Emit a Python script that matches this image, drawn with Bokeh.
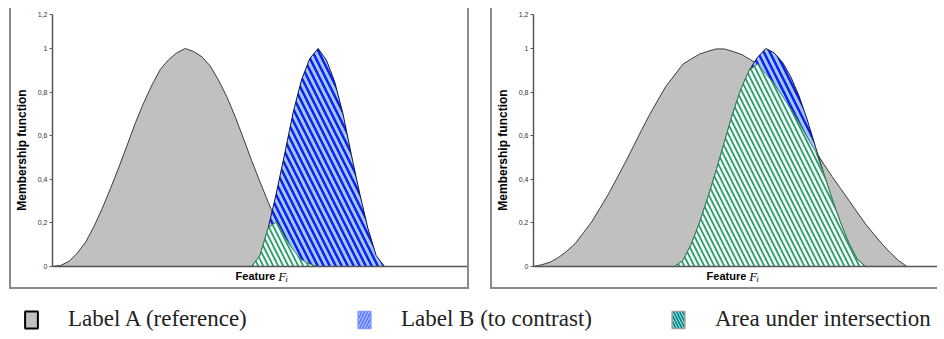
import numpy as np
from bokeh.plotting import figure
from bokeh.models import Range1d, FixedTicker, Label, Legend, LegendItem, ColumnDataSource, Span
from bokeh.layouts import row, column
from bokeh.embed import file_html
from bokeh.resources import INLINE

# ---------------- data (feature units, membership values) ----------------
x_left = [0, 2, 4, 6, 8, 10, 12, 14, 16, 18, 20, 22, 24, 26, 28, 30, 32, 34, 36, 38, 40,
          42, 44, 46, 48, 50, 52, 54, 56, 58, 60, 62, 64, 66, 68, 70, 72, 74, 76, 78, 80]
label_a_left = [0, 0.005, 0.024, 0.062, 0.112, 0.184, 0.267, 0.359, 0.456, 0.557, 0.66,
                0.752, 0.834, 0.905, 0.949, 0.981, 1.0, 0.986, 0.962, 0.92, 0.855,
                0.779, 0.688, 0.588, 0.485, 0.388, 0.294, 0.205, 0.134, 0.076, 0.031,
                0.011, 0, 0, 0, 0, 0, 0, 0, 0, 0]
label_b_left = [0, 0, 0, 0, 0, 0, 0, 0, 0, 0, 0,
                0, 0, 0, 0, 0, 0, 0, 0, 0, 0,
                0, 0, 0, 0, 0.051, 0.178, 0.342, 0.522, 0.708, 0.856,
                0.954, 1.0, 0.947, 0.847, 0.70, 0.514, 0.337, 0.175, 0.05, 0]

x_right = [0, 2, 4, 6, 8, 10, 12, 14, 16, 18, 20, 22, 24, 26, 28, 30, 32, 34, 36, 38, 40,
           42, 44, 46, 48, 50, 52, 54, 56, 58, 60, 62, 64, 66, 68, 70, 72, 74, 76, 78, 80,
           82, 84, 86, 88, 90]
label_a_right = [0, 0.008, 0.020, 0.041, 0.070, 0.104, 0.154, 0.204, 0.267, 0.330, 0.401,
                 0.473, 0.548, 0.624, 0.697, 0.764, 0.829, 0.878, 0.928, 0.952, 0.974,
                 0.987, 0.998, 0.998, 0.987, 0.974, 0.952, 0.929, 0.883, 0.838, 0.782,
                 0.723, 0.660, 0.592, 0.528, 0.469, 0.412, 0.358, 0.304, 0.250, 0.196,
                 0.149, 0.104, 0.063, 0.027, 0]
label_b_right = [0, 0, 0, 0, 0, 0, 0, 0, 0, 0, 0,
                 0, 0, 0, 0, 0, 0, 0, 0.027, 0.101, 0.200,
                 0.315, 0.438, 0.570, 0.701, 0.814, 0.900, 0.960, 1.0, 0.980, 0.937,
                 0.871, 0.782, 0.672, 0.547, 0.424, 0.308, 0.201, 0.107, 0.034, 0,
                 0, 0, 0, 0, 0]

y_ticks = [0, 0.2, 0.4, 0.6, 0.8, 1.0, 1.156]
y_tick_labels = ["0", "0,2", "0,4", "0,6", "0,8", "1", "1,2"]
x_title = ["Feature", "F", "i"]
legend_labels = ["Label A (reference)", "Label B (to contrast)", "Area under intersection"]

BORDER = "2px solid #8a8a8a"
Y_MIN = -0.0872


def panel(xs, a, b, width, x_end, min_right, title_x, styles):
    a = np.array(a, dtype=float)
    b = np.array(b, dtype=float)
    src = ColumnDataSource(dict(x=xs, a=a, b=b, c=np.minimum(a, b)))
    p = figure(width=width, height=281, x_range=Range1d(0, x_end), y_range=Range1d(Y_MIN, 1.156),
               output_backend="svg", toolbar_location=None,
               min_border_left=35, min_border_right=min_right, min_border_top=6, min_border_bottom=4)
    p.outline_line_color = None
    p.grid.visible = False
    p.background_fill_color = "white"
    p.border_fill_color = "white"

    p.varea(x="x", y1=0, y2="a", source=src, fill_color="#C0C0C0")
    p.line(x="x", y="a", source=src, line_color="#3c3c3c", line_width=1)
    p.varea(x="x", y1=0, y2="b", source=src, fill_color="#A0C6FF",
            hatch_pattern="\\", hatch_color="#0A1EEE", hatch_scale=12, hatch_weight=2.4)
    p.line(x="x", y="b", source=src, line_color="#151535", line_width=1)
    p.varea(x="x", y1=0, y2="c", source=src, fill_color="#EFFFFC",
            hatch_pattern="\\", hatch_color="#339966", hatch_scale=10, hatch_weight=1.8)
    p.line(x="x", y="c", source=src, line_color="#2E8B57", line_width=1)

    p.add_layout(Span(location=0, dimension="width", line_color="#555555", line_width=1.5))

    p.xaxis.visible = False
    ya = p.yaxis[0]
    ya.bounds = (0, 1.156)
    ya.ticker = FixedTicker(ticks=y_ticks)
    ya.major_label_overrides = {t: s for t, s in zip(y_ticks, y_tick_labels)}
    ya.major_label_text_font = "Liberation Sans"
    ya.major_label_text_font_size = "7px"
    ya.major_label_text_color = "#333333"
    ya.major_label_standoff = 2
    ya.major_tick_in = 0
    ya.major_tick_out = 3
    ya.minor_tick_in = 0
    ya.minor_tick_out = 0
    ya.axis_line_color = "#555555"
    ya.axis_line_width = 1.5
    ya.major_tick_line_color = "#555555"
    ya.axis_label = "Membership function"
    ya.axis_label_text_font = "Liberation Sans"
    ya.axis_label_text_font_style = "bold"
    ya.axis_label_text_font_size = "12px"
    ya.axis_label_text_color = "black"
    ya.axis_label_standoff = 6

    # x-axis title "Feature F_i" (bold sans + italic serif with subscript)
    p.add_layout(Label(x=title_x, y=-0.044, text=x_title[0], text_font="Liberation Sans",
                       text_font_style="bold", text_font_size="11px",
                       text_baseline="middle", text_align="right", text_color="black"))
    p.add_layout(Label(x=title_x + 0.7, y=-0.044, text=x_title[1], text_font="Liberation Serif",
                       text_font_style="italic", text_font_size="13px",
                       text_baseline="middle", text_align="left", text_color="black"))
    p.add_layout(Label(x=title_x + 2.4, y=-0.058, text=x_title[2], text_font="Liberation Serif",
                       text_font_style="italic", text_font_size="9px",
                       text_baseline="middle", text_align="left", text_color="black"))
    p.styles = styles
    return p


p1 = panel(x_left, label_a_left, label_b_left, 460, 100.0, 4, 53.7,
           {"border-left": BORDER, "border-right": BORDER, "border-bottom": BORDER})
p2 = panel(x_right, label_a_right, label_b_right, 447, 97.86, 0, 51.3,
           {"border-left": BORDER, "border-bottom": BORDER})

leg = figure(width=928, height=48, x_range=Range1d(0, 1), y_range=Range1d(0, 1),
             output_backend="svg", toolbar_location=None, min_border=0)
leg.outline_line_color = None
leg.axis.visible = False
leg.grid.visible = False

# legend swatch renderers (kept outside the visible range; only their legend swatches show)
sw = dict(left=[-3], right=[-2], bottom=[-3], top=[-2])
rA = leg.quad(**sw, fill_color="#C0C0C0", line_color="#000000", line_width=2)
rB = leg.quad(**sw, fill_color="#4A6CFF", hatch_pattern="/", hatch_color="#A8BCFF",
              hatch_scale=6, hatch_weight=1.5, line_color="#7F9BFF", line_width=1.5)
rC = leg.quad(**sw, fill_color="#FFFFFF", hatch_pattern="\\", hatch_color="#008B8B",
              hatch_scale=6, hatch_weight=2, line_color="#A0A0A0", line_width=1.5)

for r, lab, xloc in zip([rA, rB, rC], legend_labels, [14, 347, 661]):
    lg = Legend(items=[LegendItem(label=lab, renderers=[r])], location=(xloc, 5),
                orientation="horizontal", glyph_width=16, glyph_height=21,
                label_standoff=29, label_text_font="Liberation Serif",
                label_text_font_size="23px", label_text_color="#222222",
                padding=0, margin=0, border_line_color=None, background_fill_alpha=0)
    leg.add_layout(lg)

layout = column(row(p1, p2, spacing=21), leg)
layout.margin = (8, 0, 0, 9)
open("out.html", "w").write(file_html(layout, INLINE))
